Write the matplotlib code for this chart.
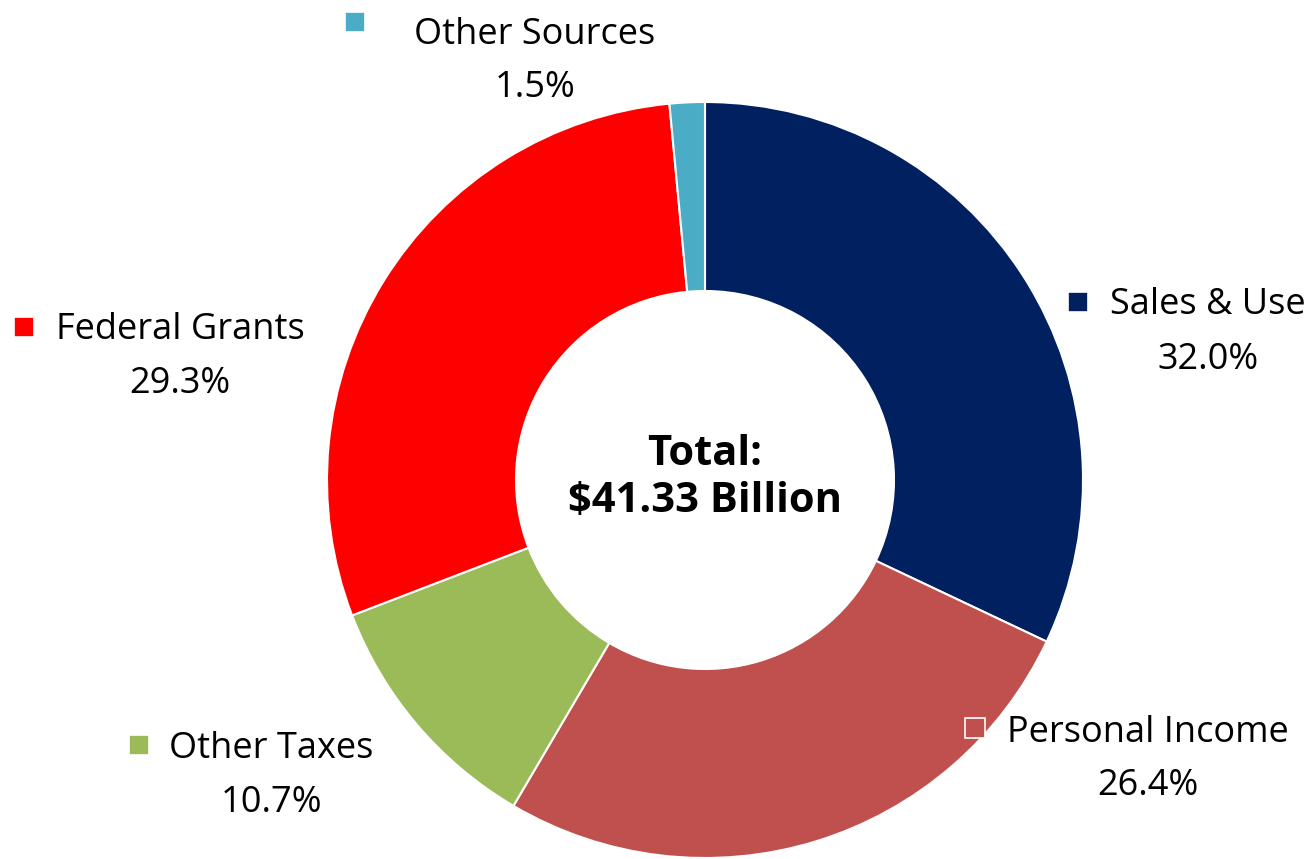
import matplotlib
matplotlib.use("Agg")
import matplotlib.pyplot as plt

categories = ["Sales & Use", "Personal Income", "Other Taxes", "Federal Grants", "Other Sources"]
shares = [32.0, 26.4, 10.7, 29.3, 1.5]
colors = ["#002060", "#C0504D", "#9BBB59", "#FF0000", "#4BACC6"]
total_label = "Total:\n$41.33 Billion"

W, H = 1315, 859
fig = plt.figure(figsize=(W / 100, H / 100), dpi=100)
ax = fig.add_axes([0, 0, 1, 1])

cx, cy, r = 705, H - 480, 378
ax.pie(shares, colors=colors, startangle=90, counterclock=False,
       center=(cx, cy), radius=r, frame=True,
       wedgeprops=dict(width=r * 0.5, edgecolor="white", linewidth=1.5))
ax.set_xlim(0, W)
ax.set_ylim(0, H)
ax.set_aspect("equal")
ax.axis("off")

ax.text(cx, cy + 2, total_label, ha="center", va="center", fontsize=30,
        fontweight="bold", family="Open Sans", linespacing=1.2)

# label anchors: (marker x, marker y, text center x, name y, percent y) in pixels from top
label_pos = {
    "Sales & Use": (1078, 302, 1208, 305, 360),
    "Personal Income": (975, 728, 1148, 733, 786),
    "Other Taxes": (139, 745, 271, 749, 803),
    "Federal Grants": (24, 327, 180, 330, 384),
    "Other Sources": (355, 22, 535, 35, 88),
}

for name, val, col in zip(categories, shares, colors):
    mx, my, tx, ny, py = label_pos[name]
    ax.plot(mx, H - my, marker="s", markersize=14, color=col,
            markeredgecolor="white", markeredgewidth=1.2, linestyle="none")
    ax.text(tx, H - ny, name, ha="center", va="center", fontsize=26, family="Open Sans")
    ax.text(tx, H - py, f"{val:.1f}%", ha="center", va="center", fontsize=26, family="Open Sans")

fig.savefig("out.png", dpi=100, facecolor="white")
